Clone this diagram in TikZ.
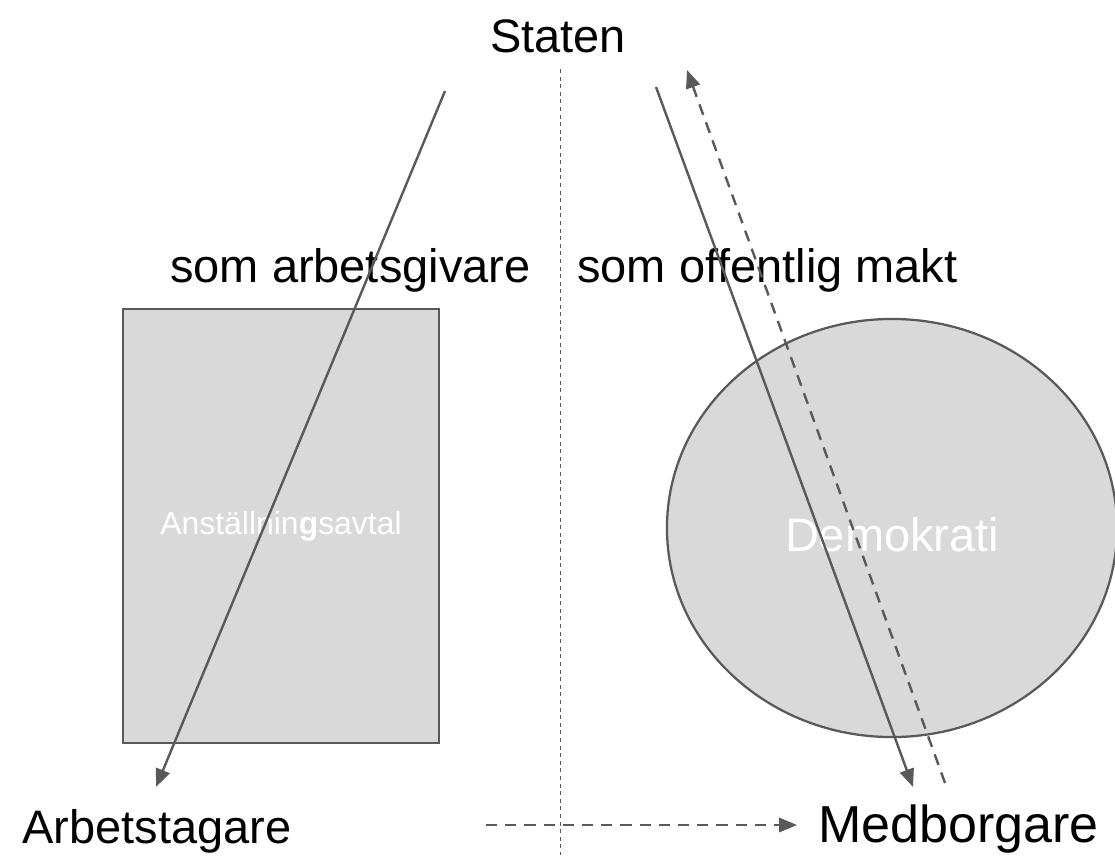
\documentclass[tikz,border=0pt]{standalone}
\usepackage{fontspec}
\setmainfont{Liberation Sans}
\usetikzlibrary{arrows.meta, shapes.geometric}

\definecolor{linegray}{RGB}{89,89,89}
\definecolor{fillgray}{RGB}{217,217,217}

\begin{document}
\begin{tikzpicture}[
        x=0.025cm, y=-0.025cm,
        label/.style={font=\fontsize{33.4}{40}\selectfont, anchor=base west, inner sep=0pt},
        formbox/.style={draw=linegray, fill=fillgray, line width=1.6pt, text=white},
        line/.style={draw=linegray, line width=1.7pt},
        arrow/.style={line, -{Triangle[length=0.45cm, width=0.36cm]}},
        dasharrow/.style={arrow, dash pattern=on 0.28cm off 0.2cm}
    ]
    \useasboundingbox (0,0) rectangle (1115,855);

    % Former
    \node (avtal) [formbox, rectangle, minimum width=7.9cm, minimum height=10.85cm,
        font=\fontsize{22.7}{27}\selectfont] at (281,526) {Anställnin\textbf{g}savtal};
    \node (demokrati) [formbox, ellipse, inner sep=0pt, minimum width=11.25cm, minimum height=10.45cm,
        text height=1.2cm, font=\fontsize{33.4}{40}\selectfont] at (892,528) {Demokrati};

    % Texter
    \node (staten) [label] at (490,52) {Staten};
    \node (arbetsgivare) [label] at (170,282) {som arbetsgivare};
    \node (makt) [label] at (577,282) {som offentlig makt};
    \node (arbetstagare) [label] at (22,843) {Arbetstagare};
    \node (medborgare) [label, font=\fontsize{37}{44}\selectfont] at (818,842) {Medborgare};

    % Punkter
    \coordinate (gfrom) at (445,91);
    \coordinate (gto) at (156,787);
    \coordinate (mfrom) at (656,87);
    \coordinate (mto) at (913,787);
    \coordinate (rfrom) at (945,783);
    \coordinate (rto) at (687,70);
    \coordinate (hfrom) at (486,825);
    \coordinate (hto) at (797,825);
    \coordinate (delup) at (560,69);
    \coordinate (delner) at (560,855);

    % Linjer
    \draw[draw=linegray, line width=0.7pt, dash pattern=on 0.1cm off 0.09cm] (delup) -- (delner);
    \draw[arrow] (gfrom) -- (gto);
    \draw[arrow] (mfrom) -- (mto);
    \draw[dasharrow] (rfrom) -- (rto);
    \draw[dasharrow] (hfrom) -- (hto);

\end{tikzpicture}
\end{document}
